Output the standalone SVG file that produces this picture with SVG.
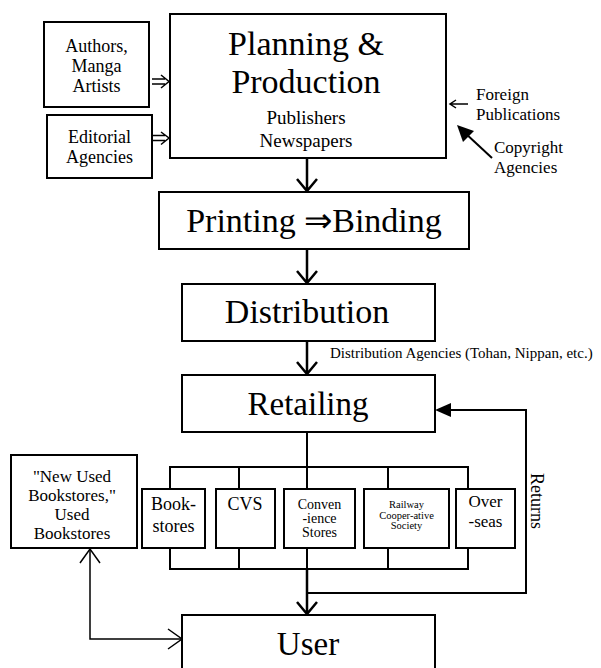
<svg xmlns="http://www.w3.org/2000/svg" width="601" height="668" viewBox="0 0 601 668">
<style>
.box{fill:#fff;stroke:#000;stroke-width:2}
.t{font-family:"Liberation Serif","Times New Roman",serif;fill:#000;text-anchor:middle}
.ts{font-family:"Liberation Serif","Times New Roman",serif;fill:#000}
.c{fill:none;stroke:#000;stroke-width:2.5}
.cb{fill:none;stroke:#000;stroke-width:2}
.thin{fill:none;stroke:#000;stroke-width:1.5}
</style>
<rect width="601" height="668" fill="#fff"/>
<g id="connectors">
  <path class="thin" d="M152,79 H165 M152,84 H165 M161,75 L169,81.5 L161,88"/>
  <path class="thin" d="M152,135.5 H165 M152,140.5 H165 M161,132 L169,138 L161,144.5"/>
  <path class="thin" d="M468,104 H450 M456,100 L450,104 L456,108"/>
  <path class="cb" d="M492,158 L464,132"/>
  <path d="M457,125 L474,131 L463,142 Z" fill="#000"/>
  <path class="c" d="M307,158 V191 M297,179 L307,191 L317,179"/>
  <path class="c" d="M307,249 V283 M297,271 L307,283 L317,271"/>
  <path class="c" d="M307,341 V374 M297,362 L307,374 L317,362"/>
  <path class="cb" d="M307,432 V467"/>
  <path class="cb" d="M170,489 V467 H468 V489 M239,467 V489 M307,467 V489 M388,467 V489"/>
  <path class="cb" d="M170,548 V569 H468 V548 M239,548 V569 M307,548 V569 M388,548 V569"/>
  <path class="c" d="M307,569 V614 M297,602 L307,614 L317,602"/>
  <path class="cb" d="M307,593 H526 V410 H449"/>
  <path d="M435,410 L451,403 L451,417 Z" fill="#000"/>
  <path class="thin" d="M90,549 V639 H181"/>
  <path class="thin" d="M80,563 L90,549 L100,563"/>
  <path class="thin" d="M168,629 L182,639 L168,649"/>
</g>
<g id="authors">
  <rect class="box" x="44" y="22" width="105" height="85"/>
  <text class="t" font-size="18" x="96.5" y="52">Authors,</text>
  <text class="t" font-size="18" x="96.5" y="72">Manga</text>
  <text class="t" font-size="18" x="96.5" y="92">Artists</text>
</g>
<g id="editorial">
  <rect class="box" x="47" y="115" width="105" height="63"/>
  <text class="t" font-size="18" x="99.5" y="143">Editorial</text>
  <text class="t" font-size="18" x="99.5" y="163">Agencies</text>
</g>
<g id="planning">
  <rect class="box" x="170" y="14" width="276" height="144"/>
  <text class="t" font-size="34" x="306" y="55">Planning &amp;</text>
  <text class="t" font-size="34" x="306" y="93">Production</text>
  <text class="t" font-size="19" x="306" y="124">Publishers</text>
  <text class="t" font-size="19" x="306" y="147">Newspapers</text>
</g>
<g id="foreign">
  <text class="ts" font-size="17" x="476" y="100">Foreign</text>
  <text class="ts" font-size="17" x="476" y="120">Publications</text>
</g>
<g id="copyright">
  <text class="ts" font-size="17" x="494" y="153">Copyright</text>
  <text class="ts" font-size="17" x="494" y="173">Agencies</text>
</g>
<g id="printing">
  <rect class="box" x="159" y="192" width="310" height="57"/>
  <text class="t" font-size="34" x="314" y="232">Printing ⇒Binding</text>
</g>
<g id="distribution">
  <rect class="box" x="182" y="284" width="253" height="57"/>
  <text class="t" font-size="34" x="307" y="323">Distribution</text>
</g>
<g id="agencies">
  <text class="ts" font-size="15" x="330" y="358">Distribution Agencies (Tohan, Nippan, etc.)</text>
</g>
<g id="retailing">
  <rect class="box" x="182" y="375" width="253" height="57"/>
  <text class="t" font-size="33" x="308" y="415">Retailing</text>
</g>
<g id="used">
  <rect class="box" x="11" y="455" width="126" height="93"/>
  <text class="t" font-size="17" x="72" y="482">"New Used</text>
  <text class="t" font-size="17" x="72" y="501">Bookstores,"</text>
  <text class="t" font-size="17" x="72" y="520">Used</text>
  <text class="t" font-size="17" x="72" y="539">Bookstores</text>
</g>
<g id="bookstores">
  <rect class="box" x="142" y="489" width="63" height="59"/>
  <text class="t" font-size="18" x="173.5" y="510">Book-</text>
  <text class="t" font-size="18" x="173.5" y="532">stores</text>
</g>
<g id="cvs">
  <rect class="box" x="216" y="489" width="59" height="59"/>
  <text class="t" font-size="18" x="245" y="510">CVS</text>
</g>
<g id="conven">
  <rect class="box" x="284" y="489" width="71" height="59"/>
  <text class="t" font-size="14" x="319.5" y="509">Conven</text>
  <text class="t" font-size="14" x="319.5" y="523">-ience</text>
  <text class="t" font-size="14" x="319.5" y="537">Stores</text>
</g>
<g id="railway">
  <rect class="box" x="364" y="489" width="85" height="59"/>
  <text class="t" font-size="10.5" x="406.5" y="508">Railway</text>
  <text class="t" font-size="10.5" x="406.5" y="519">Cooper-ative</text>
  <text class="t" font-size="10.5" x="406.5" y="529">Society</text>
</g>
<g id="overseas">
  <rect class="box" x="456" y="489" width="59" height="59"/>
  <text class="t" font-size="17" x="485.5" y="507">Over</text>
  <text class="t" font-size="17" x="485.5" y="527">-seas</text>
</g>
<g id="returns">
  <text class="ts" font-size="18" transform="translate(531,473) rotate(90)">Returns</text>
</g>
<g id="user">
  <rect class="box" x="182" y="615" width="253" height="70"/>
  <text class="t" font-size="33" x="308" y="655">User</text>
</g>
</svg>
